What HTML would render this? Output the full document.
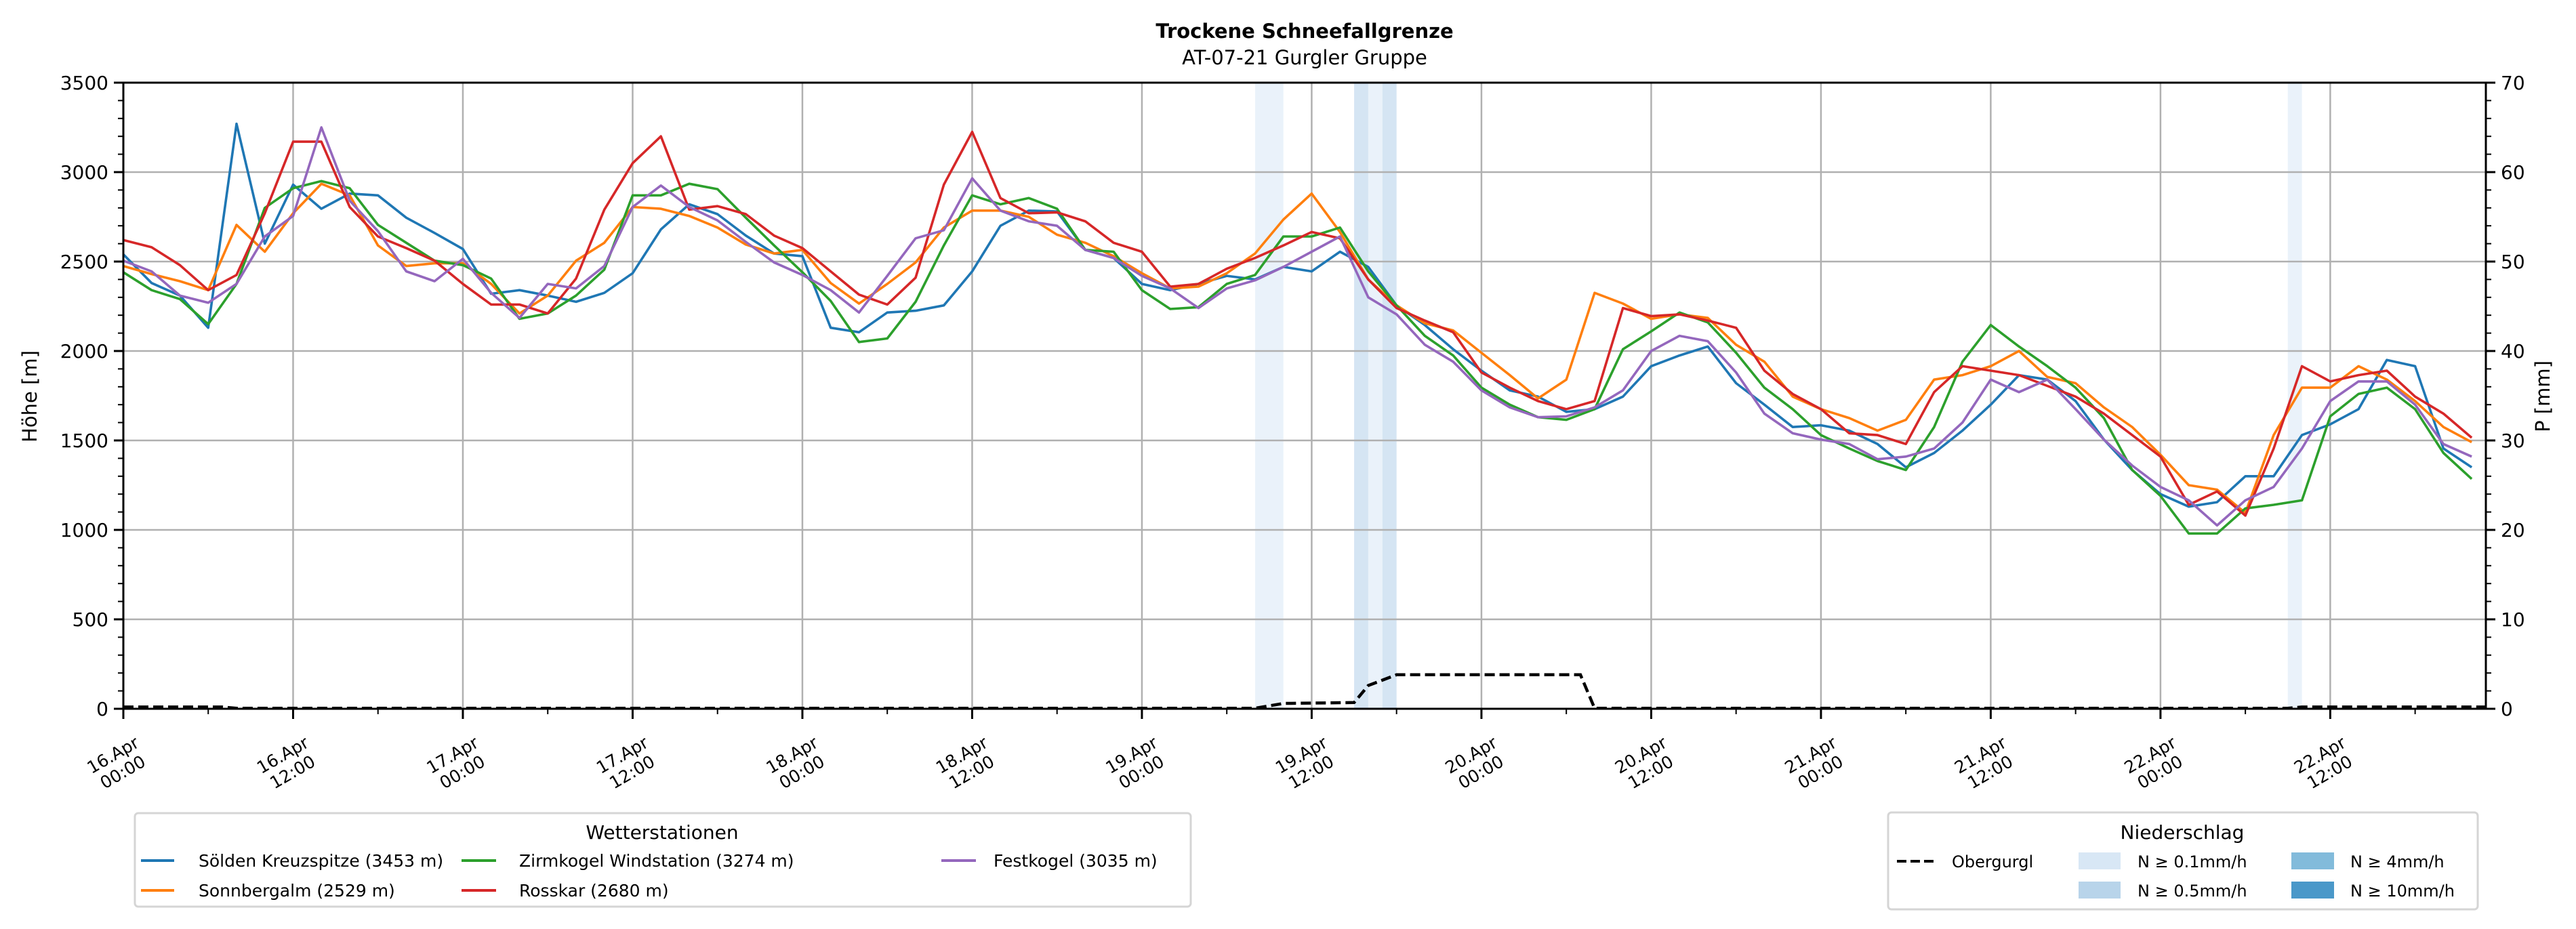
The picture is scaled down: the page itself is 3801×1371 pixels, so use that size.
<!DOCTYPE html>
<html><head><meta charset="utf-8"><style>
html,body{margin:0;padding:0;background:#fff;}
svg{display:block;font-family:"DejaVu Sans","Liberation Sans",sans-serif;}
</style></head><body>
<svg id="chart" width="3801" height="1371" viewBox="0 0 3801 1371" xmlns="http://www.w3.org/2000/svg">
<rect width="3801" height="1371" fill="#fff"/>
<text x="1925" y="56" text-anchor="middle" font-size="29" font-weight="bold">Trockene Schneefallgrenze</text>
<text x="1925" y="95" text-anchor="middle" font-size="29">AT-07-21 Gurgler Gruppe</text>
<g id="bands"></g>
<g id="grid"></g>
<g id="series"></g>
<g id="axes"></g>
<text transform="translate(54,585) rotate(-90)" text-anchor="middle" font-size="29">Höhe [m]</text>
<text transform="translate(3762,585) rotate(-90)" text-anchor="middle" font-size="29">P [mm]</text>

<g>
<rect x="199" y="1200" width="1558" height="138" rx="5" fill="#fff" stroke="#d5d5d5" stroke-width="3"/>
<text x="977" y="1238" text-anchor="middle" font-size="28">Wetterstationen</text>
<g><line x1="208" y1="1270" x2="257" y2="1270" stroke="#1f77b4" stroke-width="4"/><text x="293" y="1279" font-size="25">Sölden Kreuzspitze (3453 m)</text></g>
<g><line x1="208" y1="1314" x2="257" y2="1314" stroke="#ff7f0e" stroke-width="4"/><text x="293" y="1323" font-size="25">Sonnbergalm (2529 m)</text></g>
<g><line x1="681" y1="1270" x2="732" y2="1270" stroke="#2ca02c" stroke-width="4"/><text x="766" y="1279" font-size="25">Zirmkogel Windstation (3274 m)</text></g>
<g><line x1="681" y1="1314" x2="732" y2="1314" stroke="#d62728" stroke-width="4"/><text x="766" y="1323" font-size="25">Rosskar (2680 m)</text></g>
<g><line x1="1389" y1="1270" x2="1440" y2="1270" stroke="#9467bd" stroke-width="4"/><text x="1466" y="1279" font-size="25">Festkogel (3035 m)</text></g>
</g>

<g>
<rect x="2786" y="1199" width="870" height="143" rx="5" fill="#fff" stroke="#d5d5d5" stroke-width="3"/>
<text x="3220" y="1238" text-anchor="middle" font-size="28">Niederschlag</text>
<g><line x1="2799" y1="1271" x2="2855" y2="1271" stroke="#000" stroke-width="4" stroke-dasharray="14,6"/><text x="2880" y="1280" font-size="24">Obergurgl</text></g>
<g><rect x="3067" y="1258" width="62" height="25" fill="#d8e7f5"/><text x="3154" y="1280" font-size="24">N ≥ 0.1mm/h</text></g>
<g><rect x="3067" y="1301" width="62" height="25" fill="#b8d4ea"/><text x="3154" y="1323" font-size="24">N ≥ 0.5mm/h</text></g>
<g><rect x="3381" y="1258" width="63" height="25" fill="#82bbdb"/><text x="3468" y="1280" font-size="24">N ≥ 4mm/h</text></g>
<g><rect x="3381" y="1301" width="63" height="25" fill="#4a98c9"/><text x="3468" y="1323" font-size="24">N ≥ 10mm/h</text></g>
</g>
</svg>
<script>
const hours = [];
for (let h = 0; h <= 166; h += 2) hours.push(h);
const soelden = [2540,2380,2310,2130,3270,2600,2930,2795,2880,2870,2745,2660,2570,2320,2340,2310,2275,2325,2435,2680,2820,2765,2645,2545,2530,2130,2105,2215,2225,2255,2445,2700,2785,2780,2565,2520,2375,2340,2375,2420,2400,2470,2445,2555,2470,2255,2145,2010,1890,1780,1745,1660,1675,1745,1915,1975,2025,1820,1700,1575,1585,1555,1480,1350,1430,1555,1700,1865,1840,1720,1505,1335,1200,1130,1155,1300,1300,1530,1590,1675,1950,1915,1455,1350];
const sonnbergalm = [2475,2430,2390,2340,2705,2555,2770,2935,2870,2590,2475,2490,2490,2375,2210,2310,2505,2605,2805,2795,2755,2690,2595,2545,2565,2380,2265,2375,2495,2690,2785,2785,2750,2650,2605,2530,2435,2350,2360,2435,2545,2735,2880,2665,2400,2255,2155,2115,1990,1865,1735,1840,2325,2265,2180,2205,2185,2035,1940,1745,1675,1625,1555,1615,1840,1865,1915,2000,1855,1820,1685,1575,1420,1250,1225,1095,1530,1795,1795,1915,1840,1720,1575,1490];
const zirmkogel = [2440,2340,2290,2150,2375,2800,2910,2950,2910,2705,2605,2505,2480,2405,2180,2210,2310,2455,2870,2870,2935,2905,2745,2590,2440,2280,2050,2070,2275,2590,2870,2820,2855,2795,2565,2555,2340,2235,2245,2375,2425,2640,2640,2690,2445,2255,2085,1975,1795,1700,1630,1615,1675,2010,2110,2215,2160,1990,1795,1675,1530,1455,1385,1335,1575,1940,2145,2025,1915,1795,1625,1335,1190,980,980,1120,1140,1165,1635,1760,1795,1675,1430,1285];
const rosskar = [2620,2580,2480,2340,2425,2770,3170,3170,2805,2640,2575,2505,2375,2260,2260,2210,2405,2790,3050,3200,2790,2810,2765,2645,2575,2445,2315,2260,2410,2930,3225,2855,2770,2775,2725,2605,2555,2360,2375,2460,2520,2590,2665,2630,2400,2240,2170,2105,1880,1795,1720,1675,1720,2240,2195,2205,2170,2130,1890,1760,1675,1540,1530,1480,1770,1915,1890,1865,1805,1745,1650,1530,1410,1140,1215,1080,1455,1915,1830,1865,1890,1745,1650,1515];
const festkogel = [2505,2445,2310,2270,2375,2640,2755,3250,2840,2670,2445,2390,2515,2325,2185,2375,2350,2475,2805,2925,2805,2730,2610,2495,2425,2340,2215,2420,2630,2675,2965,2785,2725,2700,2565,2520,2420,2350,2240,2350,2395,2470,2555,2640,2300,2205,2035,1940,1780,1685,1630,1635,1685,1780,2000,2085,2055,1880,1650,1540,1505,1480,1395,1410,1455,1600,1840,1770,1840,1675,1505,1360,1240,1165,1025,1165,1240,1455,1720,1830,1830,1700,1480,1410];
const obergurglHours = [0,7,8,80,82,87,88,90,103,104,153,154,167];
const obergurglValues = [10,10,3,3,30,35,130,190,190,3,3,10,10];
const bandStart = [80,87,88,89,153];
const bandEnd = [82,88,89,90,154];
const bandLevel = [0,1,0,1,0];
const yTicks = [0,500,1000,1500,2000,2500,3000,3500];
const y2Ticks = [0,10,20,30,40,50,60,70];
const xTickHours = [0,12,24,36,48,60,72,84,96,108,120,132,144,156];
const xTickDays = ["16.Apr","16.Apr","17.Apr","17.Apr","18.Apr","18.Apr","19.Apr","19.Apr","20.Apr","20.Apr","21.Apr","21.Apr","22.Apr","22.Apr"];
const xTickTimes = ["00:00","12:00","00:00","12:00","00:00","12:00","00:00","12:00","00:00","12:00","00:00","12:00","00:00","12:00"];

const NS = "http://www.w3.org/2000/svg";
const L = 182, R = 3668, T = 122, B = 1046, HMAX = 167;
const xS = h => L + h * (R - L) / HMAX;
const yS = v => B - v * (B - T) / 3500;
function mk(tag, attrs, parent) {
  const e = document.createElementNS(NS, tag);
  for (const k in attrs) e.setAttribute(k, attrs[k]);
  parent.appendChild(e);
  return e;
}
const bands = document.getElementById('bands');
const bandColors = ["#eaf2fa", "#d5e5f3"];
bandStart.forEach((s, i) => {
  const r = mk('rect', {x: xS(s), y: T, width: xS(bandEnd[i]) - xS(s), height: B - T, fill: bandColors[bandLevel[i]]}, bands);
  
  
});
const grid = document.getElementById('grid');
yTicks.forEach(v => {
  const g = mk('line', {x1: L, x2: R, y1: yS(v), y2: yS(v), stroke: '#b0b0b0', 'stroke-width': 2.5}, grid);
  
  
});
xTickHours.forEach(h => {
  const g = mk('line', {x1: xS(h), x2: xS(h), y1: T, y2: B, stroke: '#b0b0b0', 'stroke-width': 2.5}, grid);
  
  
});
const series = document.getElementById('series');
const defs = [["soelden", soelden, "#1f77b4"], ["sonnbergalm", sonnbergalm, "#ff7f0e"], ["zirmkogel", zirmkogel, "#2ca02c"], ["rosskar", rosskar, "#d62728"], ["festkogel", festkogel, "#9467bd"]];
defs.forEach(d => {
  const pts = d[1].map((v, i) => xS(hours[i]).toFixed(1) + ',' + yS(v).toFixed(1)).join(' ');
  const p = mk('polyline', {points: pts, fill: 'none', stroke: d[2], 'stroke-width': 3.6, 'stroke-linejoin': 'round'}, series);
  
  
});
const op = mk('polyline', {points: obergurglValues.map((v, i) => xS(obergurglHours[i]).toFixed(1) + ',' + yS(v).toFixed(1)).join(' '), fill: 'none', stroke: '#000', 'stroke-width': 4.5, 'stroke-dasharray': '15,7'}, series);



const axes = document.getElementById('axes');
mk('rect', {x: L, y: T, width: R - L, height: B - T, fill: 'none', stroke: '#000', 'stroke-width': 3}, axes);
for (let v = 0; v <= 3500; v += 100) {
  const major = v % 500 === 0;
  mk('line', {x1: L - (major ? 14 : 8), x2: L, y1: yS(v), y2: yS(v), stroke: '#000', 'stroke-width': major ? 3 : 2}, axes);
}
for (let v = 0; v <= 70; v += 2) {
  const major = v % 10 === 0;
  mk('line', {x1: R, x2: R + (major ? 14 : 8), y1: yS(v * 50), y2: yS(v * 50), stroke: '#000', 'stroke-width': major ? 3 : 2}, axes);
}
for (let h = 0; h <= 162; h += 6) {
  const major = h % 12 === 0;
  mk('line', {x1: xS(h), x2: xS(h), y1: B, y2: B + (major ? 15 : 8), stroke: '#000', 'stroke-width': major ? 3 : 2}, axes);
}
yTicks.forEach(v => {
  const t = mk('text', {x: L - 22, y: yS(v) + 10, 'text-anchor': 'end', 'font-size': 28}, axes);
  t.textContent = v;
  
  
});
y2Ticks.forEach(v => {
  const t = mk('text', {x: R + 22, y: yS(v * 50) + 10, 'font-size': 28}, axes);
  t.textContent = v;
  
  
});
xTickHours.forEach((h, i) => {
  const g = mk('g', {transform: 'translate(' + (xS(h) - 8) + ',1127) rotate(-30)', 'font-size': 25, 'text-anchor': 'middle'}, axes);
  
  
  const a = mk('text', {x: 0, y: -6}, g); a.textContent = xTickDays[i];
  const b = mk('text', {x: 0, y: 23}, g); b.textContent = xTickTimes[i];
});
</script>
</body></html>
